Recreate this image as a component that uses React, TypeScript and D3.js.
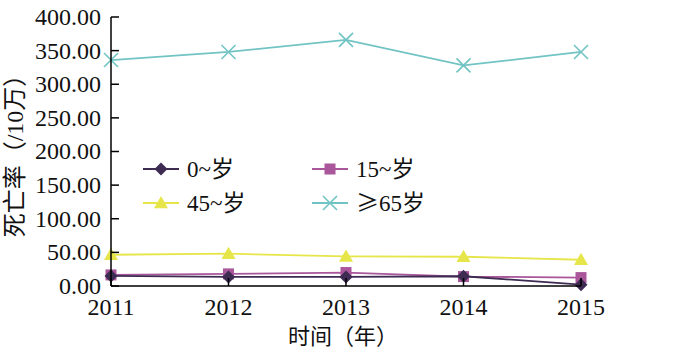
import React from "react";
import * as d3 from "d3";

const years = [2011, 2012, 2013, 2014, 2015];
const yTicks = [0, 50, 100, 150, 200, 250, 300, 350, 400];
const s0 = [15, 13.5, 13.5, 14.5, 2];
const s15 = [16.5, 18, 20, 14, 12.5];
const s45 = [46.5, 48, 44, 43.5, 39];
const s65 = [336, 348, 366, 328, 348];
const seriesNames = ["0~岁", "15~岁", "45~岁", "≥65岁"];

const colors = ["#3d2b52", "#a9569b", "#e6e64a", "#72c4c4"];
const markers = ["diamond", "square", "triangle", "x"];

function Marker({ type, x, y, color }: { type: string; x: number; y: number; color: string }) {
  if (type === "diamond") {
    const r = 6.5;
    return <path d={`M${x},${y - r}L${x + r},${y}L${x},${y + r}L${x - r},${y}Z`} fill={color} />;
  }
  if (type === "square") {
    const r = 5.5;
    return <rect x={x - r} y={y - r} width={2 * r} height={2 * r} fill={color} />;
  }
  if (type === "triangle") {
    const r = 7;
    return <path d={`M${x},${y - r}L${x + r},${y + r * 0.75}L${x - r},${y + r * 0.75}Z`} fill={color} />;
  }
  const r = 7;
  return (
    <path d={`M${x - r},${y - r}L${x + r},${y + r}M${x - r},${y + r}L${x + r},${y - r}`} stroke={color} strokeWidth={1.6} fill="none" />
  );
}

export default function App() {
  const x = d3.scalePoint<number>().domain(years).range([111, 581]);
  const y = d3.scaleLinear().domain([0, 400]).range([286, 17]);
  const all = [s0, s15, s45, s65];
  const line = d3
    .line<number>()
    .x((_, i) => x(years[i]) as number)
    .y((d) => y(d));
  const font = "'Liberation Serif', 'Times New Roman', serif";
  const cjk = "'Liberation Serif', 'Noto Sans CJK SC', serif";
  const cjkOnly = "'Noto Sans CJK SC', sans-serif";
  const legendPos = [
    { lx: 143, ty: 169 },
    { lx: 312, ty: 169 },
    { lx: 143, ty: 203 },
    { lx: 312, ty: 203 },
  ];
  return (
    <svg width={700} height={352} style={{ position: "absolute", left: 0, top: 0, background: "#fff" }}>
      {[3, 2, 1, 0].map((k) => (
        <g key={k}>
          <path d={line(all[k]) || ""} stroke={colors[k]} strokeWidth={1.8} fill="none" />
          {all[k].map((v, i) => (
            <Marker key={i} type={markers[k]} x={x(years[i]) as number} y={y(v)} color={colors[k]} />
          ))}
        </g>
      ))}
      <line x1={111} x2={111} y1={y(400)} y2={y(0)} stroke="#000" strokeWidth={1.5} />
      <line x1={111} x2={581} y1={y(0)} y2={y(0)} stroke="#000" strokeWidth={1.5} />
      {yTicks.map((t) => (
        <g key={t}>
          <line x1={111} x2={119} y1={y(t)} y2={y(t)} stroke="#000" strokeWidth={1.5} />
          <text x={101} y={y(t)} dy="0.33em" textAnchor="end" fontFamily={font} fontSize={24} fill="#111">
            {t.toFixed(2)}
          </text>
        </g>
      ))}
      {years.map((yr) => (
        <g key={yr}>
          <line x1={x(yr)} x2={x(yr)} y1={y(0)} y2={y(0) - 8} stroke="#000" strokeWidth={1.5} />
          <text x={x(yr)} y={315} textAnchor="middle" fontFamily={font} fontSize={24} fill="#111">
            {yr}
          </text>
        </g>
      ))}
      <text x={343} y={344} textAnchor="middle" fontFamily={cjk} fontSize={22} fill="#111">
        时间（年）
      </text>
      <text
        transform="translate(23,150) rotate(-90)"
        textAnchor="middle"
        fontFamily={cjk}
        fontSize={24}
        fill="#111"
      >
        死亡率（/10万）
      </text>
      {seriesNames.map((n, k) => {
        const p = legendPos[k];
        const hasGe = n.startsWith("≥");
        return (
          <g key={n}>
            <line x1={p.lx} x2={p.lx + 36} y1={p.ty} y2={p.ty} stroke={colors[k]} strokeWidth={1.8} />
            <Marker type={markers[k]} x={p.lx + 18} y={p.ty} color={colors[k]} />
            <text x={p.lx + 44} y={p.ty} dy="0.35em" fontFamily={cjk} fontSize={23} fill="#111">
              {hasGe ? (
                <>
                  <tspan fontFamily={cjkOnly}>≥</tspan>
                  {n.slice(1)}
                </>
              ) : (
                n
              )}
            </text>
          </g>
        );
      })}
    </svg>
  );
}
